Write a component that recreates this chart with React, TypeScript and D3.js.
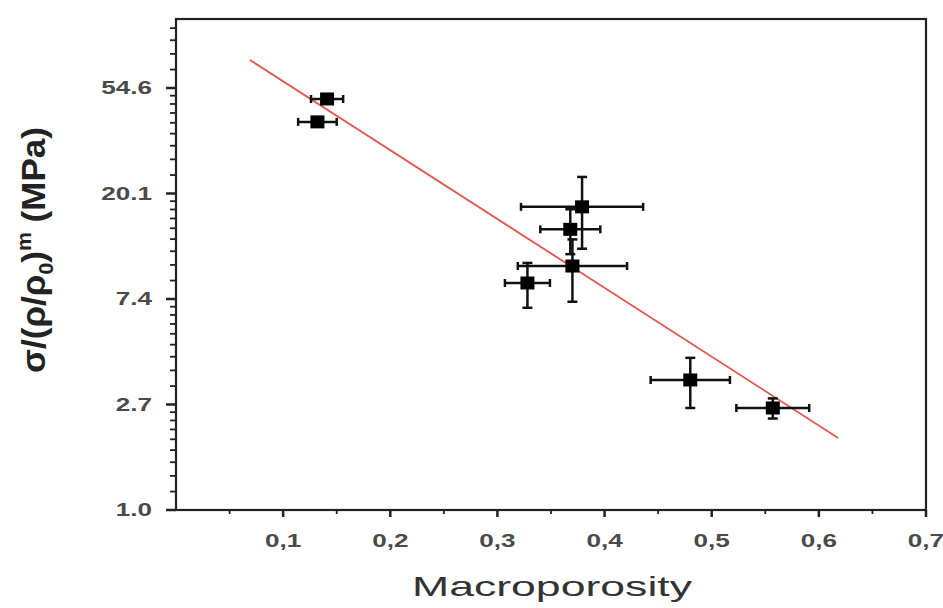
import React, { useEffect, useRef } from 'react';
import * as d3 from 'd3';

// measured points (macroporosity vs normalised strength)
const macroporosity = [0.141, 0.132, 0.379, 0.368, 0.37, 0.328, 0.48, 0.557];
const strength = [49.2, 39.6, 17.7, 14.3, 10.1, 8.6, 3.43, 2.63];
const xErr = [0.015, 0.018, 0.057, 0.028, 0.051, 0.021, 0.037, 0.034];
const yErr = [1.5, 1.2, 5.8, 3.0, 2.9, 1.8, 0.8, 0.25];

// exponential fit, drawn as a straight line on the ln axis
const fitX = [0.069, 0.618];
const fitY = [71.2, 1.98];

const xTicks = [0.1, 0.2, 0.3, 0.4, 0.5, 0.6, 0.7];
const xMinor = [0.05, 0.15, 0.25, 0.35, 0.45, 0.55, 0.65];
const yTicks = [1, Math.E, Math.exp(2), Math.exp(3), Math.exp(4)];

const W = 943;
const H = 608;

export default function App() {
  const ref = useRef<SVGSVGElement>(null);

  useEffect(() => {
    const svg = d3.select(ref.current);
    svg.selectAll('*').remove();

    const left = 176, right = 926, top = 19, bottom = 510;
    const x = d3.scaleLinear().domain([0, 0.7]).range([left, right]);
    const y = d3.scaleLog().base(Math.E).domain([1, Math.exp(4.654)]).range([bottom, top]);

    const font = '"Liberation Sans", Arial, sans-serif';
    const axisColor = '#222';

    // y minor ticks: linear steps between e^k and e^(k+1)
    const yMinor: number[] = [];
    for (let k = 0; k < 5; k++) {
      const a = Math.exp(k), b = Math.exp(k + 1);
      for (let j = 1; j < 9; j++) {
        const v = a + (j * (b - a)) / 9;
        if (v < y.domain()[1]) yMinor.push(v);
      }
    }

    const g = svg.append('g');

    g.selectAll('.ymin').data(yMinor).enter().append('line')
      .attr('x1', left - 6).attr('x2', left)
      .attr('y1', d => y(d)).attr('y2', d => y(d))
      .attr('stroke', axisColor).attr('stroke-width', 1.8);

    const yt = g.selectAll('.ytick').data(yTicks).enter().append('g')
      .attr('transform', d => `translate(${left},${y(d)})`);
    yt.append('line').attr('x1', -10).attr('x2', 0)
      .attr('stroke', axisColor).attr('stroke-width', 2.5);
    yt.append('text')
      .attr('transform', 'translate(-24,0) scale(1.45,1)')
      .attr('text-anchor', 'end').attr('dy', '0.36em')
      .style('font-family', font).style('font-size', '18px').style('font-weight', 'bold')
      .attr('fill', '#4a4a4a')
      .text(d => d.toFixed(1));

    g.selectAll('.xmin').data(xMinor).enter().append('line')
      .attr('x1', d => x(d)).attr('x2', d => x(d))
      .attr('y1', bottom).attr('y2', bottom + 4)
      .attr('stroke', axisColor).attr('stroke-width', 1.8);

    const xt = g.selectAll('.xtick').data(xTicks).enter().append('g')
      .attr('transform', d => `translate(${x(d)},${bottom})`);
    xt.append('line').attr('y1', 0).attr('y2', 7)
      .attr('stroke', axisColor).attr('stroke-width', 2.5);
    xt.append('text')
      .attr('transform', 'translate(0,37) scale(1.45,1)')
      .attr('text-anchor', 'middle')
      .style('font-family', font).style('font-size', '18px').style('font-weight', 'bold')
      .attr('fill', '#4a4a4a')
      .text(d => d3.format('.1f')(d).replace('.', ','));

    // frame
    g.append('rect')
      .attr('x', left).attr('y', top).attr('width', right - left).attr('height', bottom - top)
      .attr('fill', 'none').attr('stroke', axisColor).attr('stroke-width', 2.2);

    // fit line
    g.append('path')
      .datum(fitX.map((d, i) => [d, fitY[i]]))
      .attr('d', d3.line<number[]>().x(d => x(d[0])).y(d => y(d[1])))
      .attr('stroke', '#e0574f').attr('stroke-width', 1.8).attr('fill', 'none');

    // error bars
    const pts = macroporosity.map((d, i) => ({ x: d, y: strength[i], ex: xErr[i], ey: yErr[i] }));
    const eb = g.selectAll('.pt').data(pts).enter().append('g')
      .attr('stroke', '#111').attr('stroke-width', 2.5);
    eb.append('line')
      .attr('x1', d => x(d.x - d.ex)).attr('x2', d => x(d.x + d.ex))
      .attr('y1', d => y(d.y)).attr('y2', d => y(d.y));
    eb.append('line')
      .attr('x1', d => x(d.x - d.ex)).attr('x2', d => x(d.x - d.ex))
      .attr('y1', d => y(d.y) - 4).attr('y2', d => y(d.y) + 4);
    eb.append('line')
      .attr('x1', d => x(d.x + d.ex)).attr('x2', d => x(d.x + d.ex))
      .attr('y1', d => y(d.y) - 4).attr('y2', d => y(d.y) + 4);
    eb.append('line')
      .attr('x1', d => x(d.x)).attr('x2', d => x(d.x))
      .attr('y1', d => y(d.y + d.ey)).attr('y2', d => y(d.y - d.ey));
    eb.append('line')
      .attr('x1', d => x(d.x) - 5).attr('x2', d => x(d.x) + 5)
      .attr('y1', d => y(d.y + d.ey)).attr('y2', d => y(d.y + d.ey));
    eb.append('line')
      .attr('x1', d => x(d.x) - 5).attr('x2', d => x(d.x) + 5)
      .attr('y1', d => y(d.y - d.ey)).attr('y2', d => y(d.y - d.ey));

    g.selectAll('.sq').data(pts).enter().append('rect')
      .attr('x', d => x(d.x) - 7).attr('y', d => y(d.y) - 6.5)
      .attr('width', 14).attr('height', 13).attr('fill', '#000');

    // axis titles
    svg.append('text')
      .attr('x', 552).attr('y', 596)
      .attr('text-anchor', 'middle')
      .attr('textLength', 280).attr('lengthAdjust', 'spacingAndGlyphs')
      .style('font-family', font).style('font-size', '28px')
      .attr('fill', '#333')
      .text('Macroporosity');

    const yl = svg.append('text')
      .attr('transform', 'translate(45,250) rotate(-90)')
      .attr('text-anchor', 'middle')
      .attr('textLength', 246).attr('lengthAdjust', 'spacingAndGlyphs')
      .style('font-family', font).style('font-size', '33px').style('font-weight', 'bold')
      .attr('fill', '#222');
    yl.append('tspan').text('σ/(ρ/ρ');
    yl.append('tspan').attr('dy', 8).style('font-size', '20px').text('0');
    yl.append('tspan').attr('dy', -8).text(')');
    yl.append('tspan').attr('dy', -14).style('font-size', '20px').text('m');
    yl.append('tspan').attr('dy', 14).text(' (MPa)');
  }, []);

  return (
    <svg ref={ref} width={W} height={H}
      style={{ position: 'absolute', left: 0, top: 0, background: '#fff' }} />
  );
}
